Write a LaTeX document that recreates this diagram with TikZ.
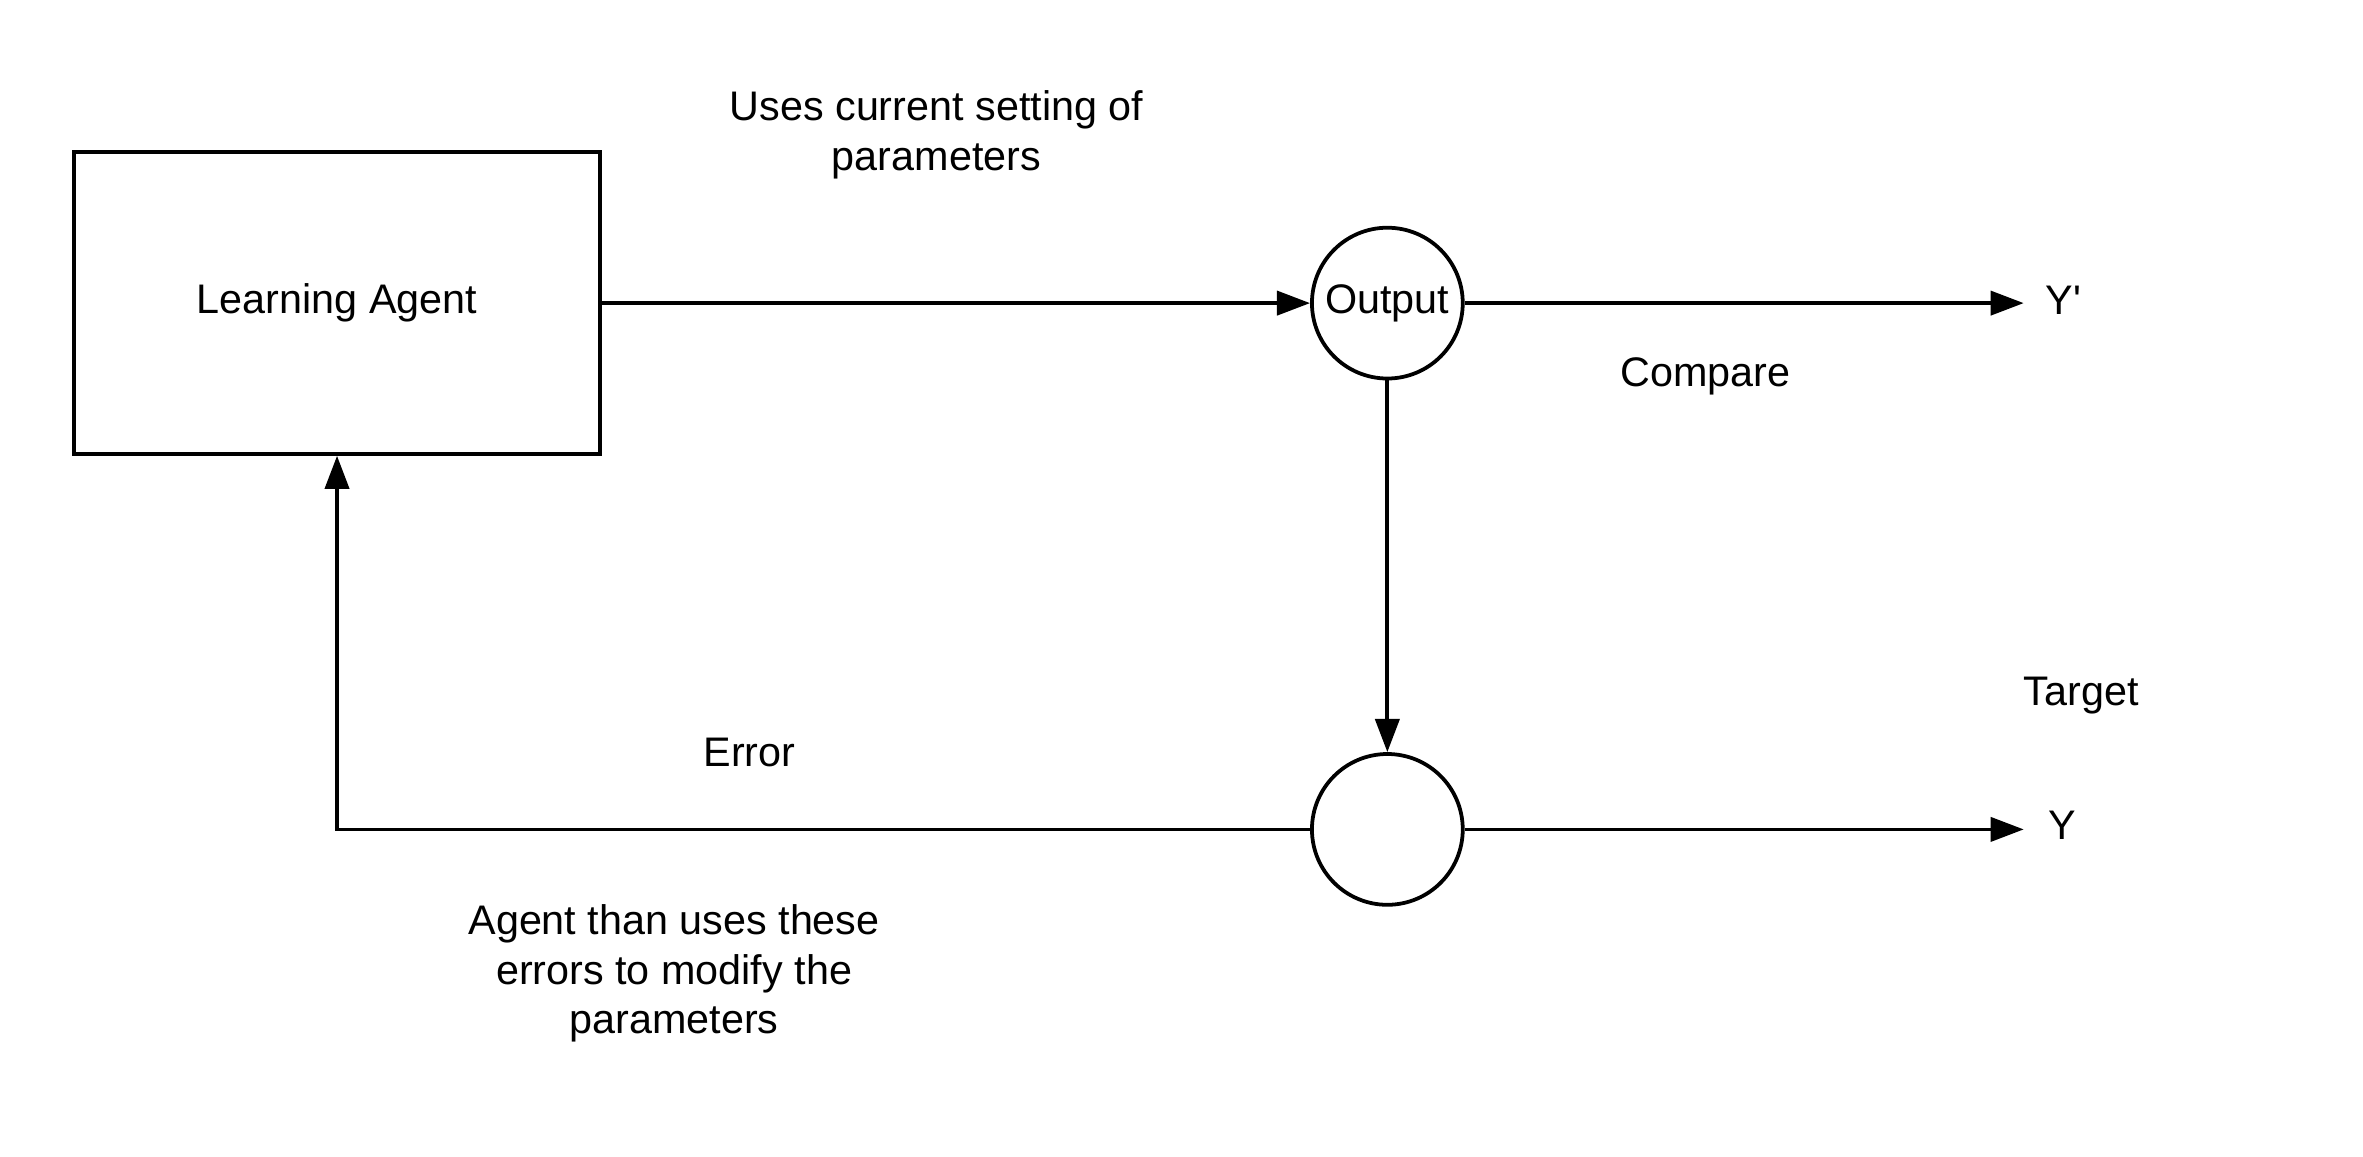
\documentclass[tikz,border=0pt]{standalone}
\usepackage{fontspec}
\setmainfont{Liberation Sans}
\usetikzlibrary{arrows.meta}
\begin{document}
\begin{tikzpicture}[x=0.5pt,y=-0.5pt,
  every node/.style={font=\fontsize{13.7pt}{16.5pt}\selectfont},
  conn/.style={line width=1.25pt,-{Triangle[length=11pt,width=8pt]}},
  shapebox/.style={draw,line width=1.25pt,rectangle,minimum width=174.5pt,minimum height=100pt,inner sep=0pt},
  ring/.style={draw,line width=1.25pt,circle,minimum size=50pt,inner sep=0pt},
  lbl/.style={align=center,inner sep=0pt}]
\useasboundingbox (0,0) rectangle (1567,767);
\node[shapebox] (agent) at (223.5,201) {Learning Agent};
\node[ring] (out) at (920,201) {Output};
\node[ring] (cmp) at (920,550) {};
\coordinate (yp) at (1342,201);
\coordinate (y) at (1342,550);
\coordinate (corner) at (223.5,550);
\node[lbl,anchor=west] (yplbl) at (1356,199) {Y\textquotesingle};
\node[lbl,anchor=west] (ylbl) at (1358,547) {Y};
\node[lbl] (uses) at (621,89.5) {Uses current setting of\\parameters};
\node[lbl] (compare) at (1131,249.5) {Compare};
\node[lbl] (target) at (1380,461.5) {Target};
\node[lbl] (error) at (497,499) {Error};
\node[lbl] (mod) at (447,645.5) {Agent than uses these\\errors to modify the\\parameters};
\draw[conn] (agent.east) -- (out.west);
\draw[conn] (out.east) -- (yp);
\draw[conn] (out.south) -- (cmp.north);
\draw[conn] (cmp.east) -- (y);
\draw[conn] (cmp.west) -- (corner) -- (agent.south);
\end{tikzpicture}
\end{document}
